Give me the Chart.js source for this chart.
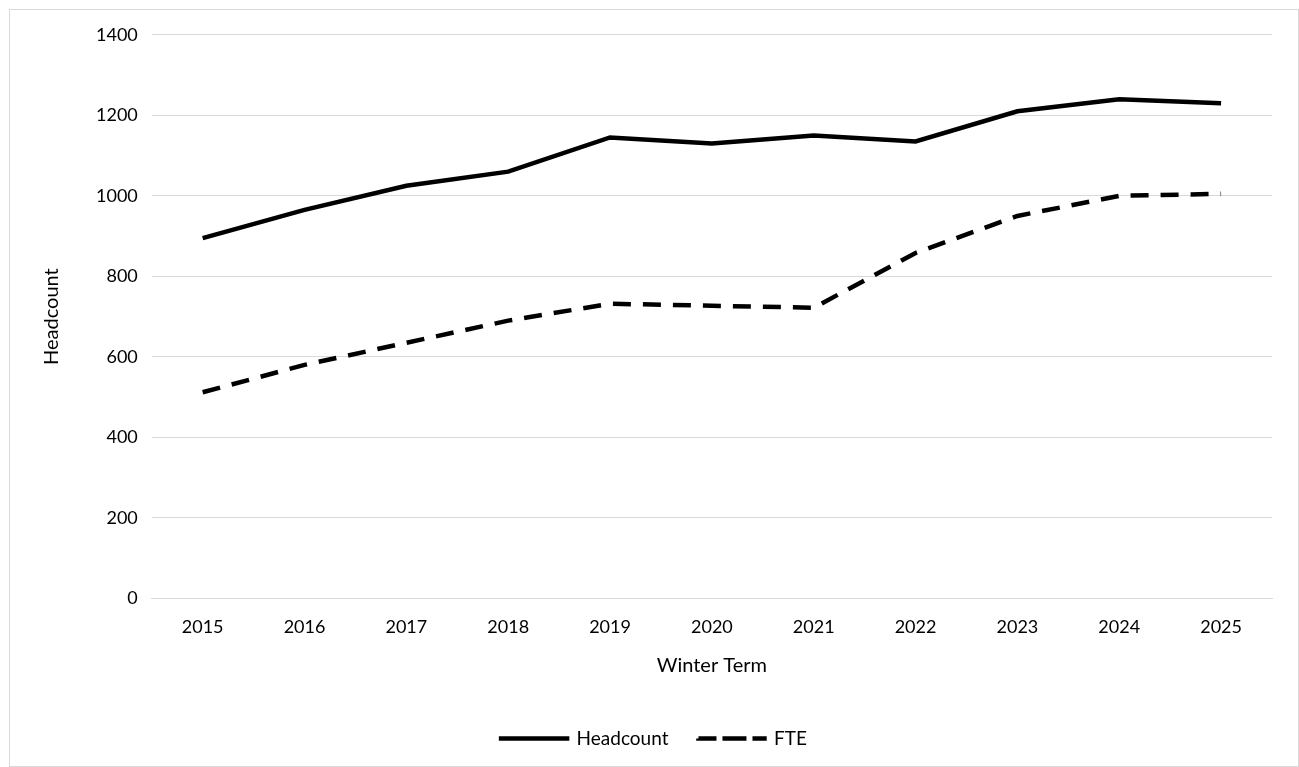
<!DOCTYPE html>
<html><head><meta charset="utf-8">
<script src="https://cdn.jsdelivr.net/npm/chart.js@4/dist/chart.umd.min.js"></script>
<style>
html,body{margin:0;padding:0;background:#fff;}
#wrap{position:absolute;left:9px;top:9px;width:1290px;height:758px;border:1px solid #d9d9d9;box-sizing:border-box;}
</style></head><body>
<div id="wrap"><canvas id="c"></canvas></div>
<script>
const years = ['2015','2016','2017','2018','2019','2020','2021','2022','2023','2024','2025'];
const headcount = [895, 965, 1025, 1060, 1145, 1130, 1150, 1135, 1210, 1240, 1230];
const fte = [512, 580, 635, 690, 732, 727, 722, 858, 950, 1000, 1005];
const F = "Lato, 'Open Sans', sans-serif";
new Chart(document.getElementById('c'), {
  type: 'line',
  data: { labels: years, datasets: [
    { label: 'Headcount', data: headcount, borderColor: '#000', backgroundColor: '#000', borderWidth: 4.5, pointRadius: 0, tension: 0 },
    { label: 'FTE', data: fte, borderColor: '#000', backgroundColor: '#000', borderWidth: 4.5, borderDash: [18, 12], pointRadius: 0, tension: 0 }
  ]},
  options: {
    responsive: true, maintainAspectRatio: false, animation: false,
    layout: { padding: { left: 26, right: 26, top: 24, bottom: 8 } },
    plugins: {
      legend: { position: 'bottom', labels: { boxWidth: 66, boxHeight: 0.01, color: '#000', font: { family: F, size: 19 }, padding: 30 } },
      tooltip: { enabled: false }
    },
    scales: {
      x: { offset: true, grid: { display: false }, border: { color: '#d9d9d9' },
           ticks: { color: '#000', font: { family: F, size: 18 }, padding: 10 },
           title: { display: true, text: 'Winter Term', color: '#000', font: { family: F, size: 20 }, padding: { top: 6, bottom: 21 } } },
      y: { min: 0, max: 1400, ticks: { stepSize: 200, color: '#000', font: { family: F, size: 18 }, padding: 14, callback: v => String(v) },
           grid: { color: '#d9d9d9', drawTicks: false }, border: { display: false },
           title: { display: true, text: 'Headcount', color: '#000', font: { family: F, size: 20 }, padding: { bottom: 18 } } }
    }
  }
});
</script></body></html>
